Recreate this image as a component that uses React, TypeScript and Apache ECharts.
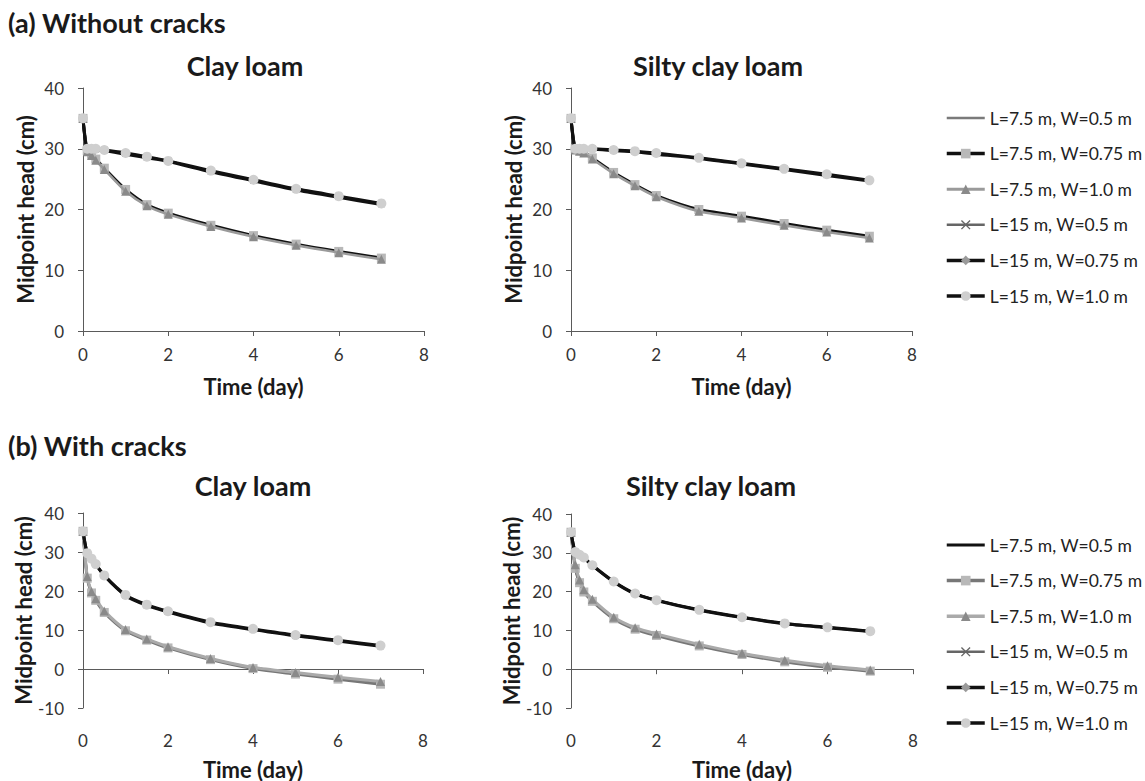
import React, { useEffect, useRef } from "react";
import * as echarts from "echarts";

// ---------------- data ----------------
const times = [0, 0.1, 0.2, 0.3, 0.5, 1, 1.5, 2, 3, 4, 5, 6, 7];
const legendNames = [
  "L=7.5 m, W=0.5 m",
  "L=7.5 m, W=0.75 m",
  "L=7.5 m, W=1.0 m",
  "L=15 m, W=0.5 m",
  "L=15 m, W=0.75 m",
  "L=15 m, W=1.0 m",
];
const panelTitles = ["Clay loam", "Silty clay loam", "Clay loam", "Silty clay loam"];
const groupTitles = ["(a) Without cracks", "(b) With cracks"];
const xTicks = [0, 2, 4, 6, 8];

// (a) Without cracks – Clay loam
const aClayL75W05 = [35, 29.6, 29.0, 28.2, 26.7, 23.1, 20.7, 19.3, 17.3, 15.6, 14.2, 13.0, 11.9];
const aClayL75W075 = [35, 29.7, 29.1, 28.3, 26.8, 23.3, 20.8, 19.4, 17.4, 15.7, 14.3, 13.1, 12.0];
const aClayL75W10 = [35, 29.5, 28.9, 28.1, 26.6, 23.0, 20.6, 19.2, 17.2, 15.5, 14.1, 12.9, 11.8];
const aClayL15W05 = [35, 30.0, 30.0, 29.9, 29.8, 29.2, 28.6, 28.0, 26.3, 24.8, 23.3, 22.1, 20.9];
const aClayL15W075 = [35, 29.9, 29.9, 29.8, 29.7, 29.1, 28.5, 27.9, 26.2, 24.7, 23.2, 22.0, 20.8];
const aClayL15W10 = [35, 30.0, 30.0, 30.0, 29.8, 29.3, 28.7, 28.0, 26.4, 24.9, 23.4, 22.2, 21.0];

// (a) Without cracks – Silty clay loam
const aSiltL75W05 = [35, 29.9, 29.7, 29.4, 28.4, 26.0, 24.0, 22.2, 19.8, 18.7, 17.5, 16.4, 15.4];
const aSiltL75W075 = [35, 30.0, 29.8, 29.5, 28.5, 26.1, 24.1, 22.3, 20.0, 18.9, 17.7, 16.6, 15.6];
const aSiltL75W10 = [35, 29.8, 29.6, 29.3, 28.3, 25.9, 23.9, 22.1, 19.7, 18.6, 17.4, 16.3, 15.3];
const aSiltL15W05 = [35, 30.0, 30.0, 30.0, 30.0, 29.8, 29.6, 29.2, 28.5, 27.6, 26.7, 25.7, 24.8];
const aSiltL15W075 = [35, 30.0, 29.9, 29.9, 29.9, 29.7, 29.5, 29.1, 28.4, 27.5, 26.6, 25.6, 24.7];
const aSiltL15W10 = [35, 30.0, 30.0, 30.0, 30.0, 29.8, 29.6, 29.3, 28.5, 27.6, 26.7, 25.8, 24.8];

// (b) With cracks – Clay loam
const bClayL75W05 = [35.3, 23.5, 19.7, 17.8, 14.7, 9.9, 7.6, 5.6, 2.6, 0.3, -1.1, -2.3, -3.5];
const bClayL75W075 = [35.3, 23.3, 19.5, 17.6, 14.5, 9.8, 7.4, 5.4, 2.4, 0.1, -1.3, -2.6, -3.9];
const bClayL75W10 = [35.3, 23.7, 19.9, 18.0, 14.9, 10.1, 7.7, 5.7, 2.7, 0.4, -0.9, -2.1, -3.2];
const bClayL15W05 = [35.3, 29.7, 28.3, 26.9, 24.0, 18.9, 16.4, 14.7, 11.9, 10.2, 8.6, 7.3, 5.9];
const bClayL15W075 = [35.3, 29.6, 28.2, 26.8, 23.9, 18.8, 16.3, 14.6, 11.8, 10.1, 8.5, 7.2, 5.8];
const bClayL15W10 = [35.3, 29.7, 28.3, 26.9, 24.0, 19.0, 16.5, 14.8, 12.0, 10.3, 8.7, 7.4, 6.0];

// (b) With cracks – Silty clay loam
const bSiltL75W05 = [35.3, 26.2, 22.5, 20.1, 17.7, 13.2, 10.5, 8.9, 6.2, 4.0, 2.1, 0.7, -0.3];
const bSiltL75W075 = [35.3, 26.0, 22.3, 19.9, 17.5, 13.0, 10.3, 8.7, 6.0, 3.8, 1.9, 0.5, -0.5];
const bSiltL75W10 = [35.3, 26.9, 23.0, 20.5, 18.0, 13.4, 10.7, 9.1, 6.4, 4.1, 2.3, 0.9, -0.2];
const bSiltL15W05 = [35.3, 30.2, 29.5, 28.8, 26.8, 22.6, 19.5, 17.8, 15.3, 13.4, 11.8, 10.8, 9.8];
const bSiltL15W075 = [35.3, 30.1, 29.4, 28.7, 26.7, 22.5, 19.4, 17.7, 15.2, 13.3, 11.7, 10.7, 9.7];
const bSiltL15W10 = [35.3, 30.2, 29.5, 28.8, 26.8, 22.6, 19.5, 17.8, 15.3, 13.4, 11.8, 10.8, 9.8];

const panelData = [
  [aClayL75W05, aClayL75W075, aClayL75W10, aClayL15W05, aClayL15W075, aClayL15W10],
  [aSiltL75W05, aSiltL75W075, aSiltL75W10, aSiltL15W05, aSiltL15W075, aSiltL15W10],
  [bClayL75W05, bClayL75W075, bClayL75W10, bClayL15W05, bClayL15W075, bClayL15W10],
  [bSiltL75W05, bSiltL75W075, bSiltL75W10, bSiltL15W05, bSiltL15W075, bSiltL15W10],
];

// ---------------- styles ----------------
const FONT = "Lato, 'Open Sans', sans-serif";
const X_SYMBOL = "path://M0,1 L1,0 L5,4 L9,0 L10,1 L6,5 L10,9 L9,10 L5,6 L1,10 L0,9 L4,5 Z";

type Sty = { line: string; width: number; symbol: string; size: number; fill: string };
const stylesA: Sty[] = [
  { line: "#7a7a7a", width: 2, symbol: "none", size: 0, fill: "#7a7a7a" },
  { line: "#111111", width: 3, symbol: "rect", size: 9, fill: "#b8b8b8" },
  { line: "#9a9a9a", width: 2.5, symbol: "triangle", size: 9, fill: "#8a8a8a" },
  { line: "#666666", width: 2, symbol: X_SYMBOL, size: 7, fill: "#666666" },
  { line: "#111111", width: 3, symbol: "diamond", size: 7, fill: "#9a9a9a" },
  { line: "#111111", width: 3, symbol: "circle", size: 10, fill: "#cfcfcf" },
];
const stylesB: Sty[] = [
  { line: "#111111", width: 2.5, symbol: "none", size: 0, fill: "#111111" },
  { line: "#777777", width: 3, symbol: "rect", size: 9, fill: "#b8b8b8" },
  { line: "#aaaaaa", width: 3, symbol: "triangle", size: 9, fill: "#8a8a8a" },
  { line: "#666666", width: 2, symbol: X_SYMBOL, size: 7, fill: "#666666" },
  { line: "#111111", width: 3, symbol: "diamond", size: 7, fill: "#9a9a9a" },
  { line: "#111111", width: 3, symbol: "circle", size: 10, fill: "#cfcfcf" },
];

const grids = [
  { left: 83, top: 88, width: 341, height: 243 },
  { left: 571, top: 88, width: 341, height: 243 },
  { left: 83, top: 513, width: 340, height: 242 },
  { left: 571, top: 514, width: 342, height: 243 },
];

function buildOption() {
  const series: any[] = [];
  panelData.forEach((panel, p) => {
    const styles = p < 2 ? stylesA : stylesB;
    const prefix = p < 2 ? "a|" : "b|";
    panel.forEach((vals, i) => {
      const s = styles[i];
      series.push({
        type: "line",
        name: prefix + legendNames[i],
        xAxisIndex: p,
        yAxisIndex: p,
        data: times.map((t, k) => [t, vals[k]]),
        smooth: 0.25,
        symbol: s.symbol,
        symbolSize: s.size,
        showSymbol: s.symbol !== "none",
        lineStyle: { color: s.line, width: s.width },
        itemStyle: { color: s.fill, borderWidth: 0 },
        z: 2 + i,
      });
    });
  });

  const axisLineStyle = { color: "#5a5a5a", width: 1 };
  const nameStyle = { fontFamily: FONT, fontWeight: "bold", fontSize: 22, color: "#1a1a1a" };
  const xAxes = grids.map((_, p) => ({
    type: "value",
    gridIndex: p,
    min: 0,
    max: 8,
    interval: 2,
    name: "Time (day)",
    nameLocation: "middle",
    nameGap: p < 2 ? 44 : 50,
    nameTextStyle: nameStyle,
    axisLine: { show: true, onZero: true, lineStyle: axisLineStyle },
    axisTick: { show: true, length: 5, lineStyle: axisLineStyle },
    axisLabel: {
      fontFamily: FONT,
      fontSize: 17,
      color: "#333",
      margin: p < 2 ? 15 : 24,
      formatter: (v: number) => (xTicks.includes(v) ? String(v) : ""),
    },
    splitLine: { show: false },
  }));
  const yAxes = grids.map((_, p) => ({
    type: "value",
    gridIndex: p,
    min: p < 2 ? 0 : -10,
    max: 40,
    interval: 10,
    name: "Midpoint head (cm)",
    nameLocation: "middle",
    nameGap: 47,
    nameTextStyle: nameStyle,
    axisLine: { show: true, lineStyle: axisLineStyle },
    axisTick: { show: true, length: 5, lineStyle: axisLineStyle },
    axisLabel: { fontFamily: FONT, fontSize: 17, color: "#333", margin: 19 },
    splitLine: { show: false },
  }));

  const legendData = (prefix: string, styles: Sty[]) =>
    legendNames.map((n, i) => ({
      name: prefix + n,
      lineStyle: { width: styles[i].width + 0.5, color: styles[i].line },
      itemStyle: styles[i].symbol === "none" ? { opacity: 0 } : { color: styles[i].fill },
    }));

  const legendCommon = {
    orient: "vertical",
    left: 945,
    padding: 0,
    itemWidth: 38,
    itemHeight: 12,
    itemGap: 17.6,
    textStyle: { fontFamily: FONT, fontSize: 17.5, lineHeight: 18, color: "#222" },
    formatter: (n: string) => n.slice(2),
    selectedMode: false,
  };

  const titlePos = [
    { x: 245, y: 65 },
    { x: 718, y: 65 },
    { x: 253, y: 485 },
    { x: 711, y: 485 },
  ];

  const graphics: any[] = [
    {
      type: "text",
      left: 8,
      top: 9,
      style: { text: groupTitles[0], fontFamily: FONT, fontWeight: "bold", fontSize: 27, fill: "#1a1a1a" },
    },
    {
      type: "text",
      left: 8,
      top: 432,
      style: { text: groupTitles[1], fontFamily: FONT, fontWeight: "bold", fontSize: 27, fill: "#1a1a1a" },
    },
    ...titlePos.map((tp, i) => ({
      type: "text",
      x: tp.x,
      y: tp.y,
      style: {
        text: panelTitles[i],
        fontFamily: FONT,
        fontWeight: "bold",
        fontSize: 27,
        fill: "#1a1a1a",
        align: "center",
        verticalAlign: "middle",
      },
    })),
  ];

  return {
    animation: false,
    backgroundColor: "#ffffff",
    grid: grids.map((g) => ({ ...g, containLabel: false })),
    xAxis: xAxes,
    yAxis: yAxes,
    legend: [
      { ...legendCommon, top: 109, data: legendData("a|", stylesA) },
      { ...legendCommon, top: 536, data: legendData("b|", stylesB) },
    ],
    graphic: graphics,
    series,
  };
}

export default function App() {
  const ref = useRef<HTMLDivElement>(null);
  useEffect(() => {
    if (!ref.current) return;
    const chart = echarts.init(ref.current, undefined, { renderer: "svg" });
    chart.setOption(buildOption() as any);
    return () => chart.dispose();
  }, []);
  return (
    <div
      ref={ref}
      style={{ position: "absolute", left: 0, top: 0, width: 1145, height: 781, background: "#fff" }}
    />
  );
}
